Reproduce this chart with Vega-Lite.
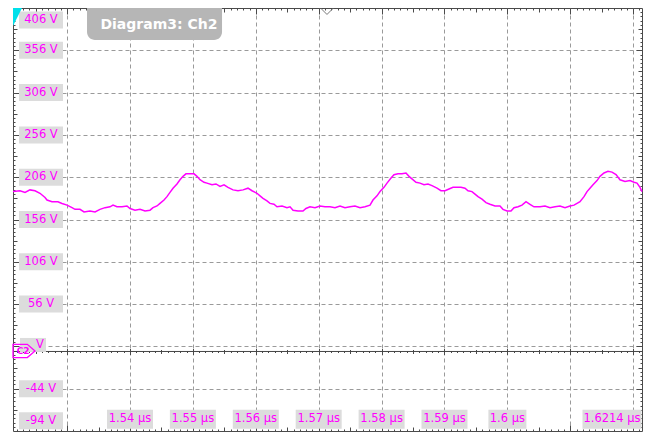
{
  "$schema": "https://vega.github.io/schema/vega-lite/v6.json",
  "width": 629,
  "height": 423,
  "autosize": {"type": "none"},
  "padding": {"left": 13, "top": 8, "right": 11, "bottom": 1},
  "background": "white",
  "config": {
    "view": {"stroke": "#4a4a4a", "strokeWidth": 1},
    "axis": {"labels": false, "domain": false, "grid": false, "tickColor": "#4a4a4a", "tickWidth": 1}
  },
  "datasets": {
    "one": [{}],
    "trace": [
      {"t":1.5214,"v":189},{"t":1.52251,"v":190},{"t":1.52331,"v":188},{"t":1.5241,"v":191},{"t":1.5249,"v":190},{"t":1.52569,"v":187},{"t":1.52649,"v":182},{"t":1.52681,"v":179},{"t":1.5276,"v":177},{"t":1.52855,"v":177},{"t":1.52919,"v":175},{"t":1.52999,"v":173},{"t":1.53078,"v":170},{"t":1.53126,"v":168},{"t":1.53205,"v":168},{"t":1.53269,"v":165},{"t":1.53364,"v":166},{"t":1.53444,"v":165},{"t":1.53523,"v":168},{"t":1.53603,"v":170},{"t":1.53682,"v":171},{"t":1.5373,"v":173},{"t":1.53793,"v":171},{"t":1.53873,"v":171},{"t":1.53952,"v":172},{"t":1.54,"v":169},{"t":1.5408,"v":167},{"t":1.54159,"v":168},{"t":1.54239,"v":166},{"t":1.54318,"v":167},{"t":1.54366,"v":170},{"t":1.54429,"v":172},{"t":1.54477,"v":175},{"t":1.54541,"v":179},{"t":1.54588,"v":183},{"t":1.54636,"v":188},{"t":1.54684,"v":193},{"t":1.54747,"v":198},{"t":1.54795,"v":203},{"t":1.54843,"v":207},{"t":1.5489,"v":210},{"t":1.54954,"v":210},{"t":1.55018,"v":210},{"t":1.55065,"v":207},{"t":1.55113,"v":203},{"t":1.55177,"v":200},{"t":1.55224,"v":199},{"t":1.55304,"v":197},{"t":1.55367,"v":198},{"t":1.55431,"v":195},{"t":1.55495,"v":197},{"t":1.55558,"v":194},{"t":1.55638,"v":191},{"t":1.55717,"v":190},{"t":1.55797,"v":191},{"t":1.55876,"v":193},{"t":1.5594,"v":190},{"t":1.56019,"v":187},{"t":1.56067,"v":184},{"t":1.56115,"v":181},{"t":1.56178,"v":178},{"t":1.56226,"v":175},{"t":1.56289,"v":174},{"t":1.56337,"v":171},{"t":1.56417,"v":172},{"t":1.56496,"v":170},{"t":1.56544,"v":171},{"t":1.56592,"v":167},{"t":1.56671,"v":166},{"t":1.5675,"v":166},{"t":1.56798,"v":169},{"t":1.56862,"v":171},{"t":1.56941,"v":170},{"t":1.57021,"v":172},{"t":1.571,"v":171},{"t":1.5718,"v":171},{"t":1.57259,"v":170},{"t":1.57339,"v":172},{"t":1.57418,"v":170},{"t":1.57498,"v":171},{"t":1.57577,"v":172},{"t":1.57657,"v":170},{"t":1.57736,"v":171},{"t":1.57816,"v":173},{"t":1.57863,"v":179},{"t":1.57927,"v":184},{"t":1.57975,"v":189},{"t":1.58038,"v":194},{"t":1.58086,"v":199},{"t":1.5815,"v":205},{"t":1.58197,"v":209},{"t":1.58261,"v":210},{"t":1.58324,"v":210},{"t":1.58388,"v":211},{"t":1.58436,"v":207},{"t":1.58483,"v":204},{"t":1.58547,"v":200},{"t":1.58611,"v":199},{"t":1.58674,"v":197},{"t":1.58738,"v":198},{"t":1.58801,"v":196},{"t":1.58881,"v":193},{"t":1.58944,"v":190},{"t":1.59008,"v":190},{"t":1.59072,"v":192},{"t":1.59135,"v":194},{"t":1.59199,"v":194},{"t":1.59262,"v":194},{"t":1.59326,"v":193},{"t":1.59374,"v":190},{"t":1.59437,"v":189},{"t":1.59485,"v":186},{"t":1.59533,"v":183},{"t":1.59596,"v":180},{"t":1.5966,"v":176},{"t":1.59723,"v":174},{"t":1.59803,"v":172},{"t":1.59882,"v":172},{"t":1.5993,"v":168},{"t":1.59994,"v":166},{"t":1.60057,"v":166},{"t":1.60105,"v":170},{"t":1.60169,"v":171},{"t":1.60232,"v":173},{"t":1.60296,"v":177},{"t":1.60359,"v":174},{"t":1.60423,"v":171},{"t":1.60518,"v":171},{"t":1.60598,"v":172},{"t":1.60677,"v":170},{"t":1.60757,"v":171},{"t":1.60836,"v":172},{"t":1.60916,"v":170},{"t":1.60995,"v":172},{"t":1.61059,"v":173},{"t":1.61107,"v":175},{"t":1.61154,"v":177},{"t":1.61218,"v":183},{"t":1.61266,"v":189},{"t":1.61313,"v":193},{"t":1.61361,"v":197},{"t":1.61425,"v":202},{"t":1.61472,"v":207},{"t":1.61536,"v":211},{"t":1.61599,"v":213},{"t":1.61663,"v":212},{"t":1.61727,"v":209},{"t":1.6179,"v":203},{"t":1.6187,"v":201},{"t":1.61949,"v":202},{"t":1.62013,"v":200},{"t":1.62061,"v":199},{"t":1.62108,"v":194},{"t":1.6214,"v":189}
    ],
    "ylab": [
      {"v":391.8,"label":"406 V"},{"v":356,"label":"356 V"},{"v":306,"label":"306 V"},{"v":256,"label":"256 V"},{"v":206,"label":"206 V"},{"v":156,"label":"156 V"},{"v":106,"label":"106 V"},{"v":56,"label":"56 V"},{"v":-44,"label":"-44 V"},{"v":-82,"label":"-94 V"}
    ],
    "xlab": [
      {"t":1.54,"label":"1.54 µs"},{"t":1.55,"label":"1.55 µs"},{"t":1.56,"label":"1.56 µs"},{"t":1.57,"label":"1.57 µs"},{"t":1.58,"label":"1.58 µs"},{"t":1.59,"label":"1.59 µs"},{"t":1.6,"label":"1.6 µs"},{"t":1.61663,"label":"1.6214 µs"}
    ]
  },
  "resolve": {"axis": {"x": "independent", "y": "independent"}},
  "layer": [
    {
      "data": {"name": "ylab"},
      "mark": {"type": "rect", "width": 44, "height": 17, "fill": "#dcdcdc"},
      "encoding": {
        "x": {"datum": 1.52585, "type": "quantitative", "scale": {"domain": [1.5214, 1.6214], "nice": false, "zero": false},
          "axis": {"orient": "bottom", "title": null, "tickSize": -4, "values": [1.525,1.535,1.545,1.555,1.565,1.575,1.585,1.595,1.605,1.615]}},
        "y": {"field": "v", "type": "quantitative", "scale": {"domain": [-94, 406], "nice": false, "zero": false},
          "axis": {"orient": "left", "title": null, "tickSize": -4, "values": [-69,-19,31,81,131,181,231,281,331,381]}}
      }
    },
    {
      "data": {"name": "ylab"},
      "mark": {"type": "text", "font": "DejaVu Sans", "fontSize": 11.5, "color": "#ff00ff", "align": "center", "baseline": "middle"},
      "encoding": {
        "x": {"datum": 1.52585, "type": "quantitative", "scale": {"domain": [1.5214, 1.6214], "nice": false, "zero": false},
          "axis": {"orient": "bottom", "title": null, "tickSize": -2, "values": [1.522,1.523,1.524,1.525,1.526,1.527,1.528,1.529,1.53,1.531,1.532,1.533,1.534,1.535,1.536,1.537,1.538,1.539,1.54,1.541,1.542,1.543,1.544,1.545,1.546,1.547,1.548,1.549,1.55,1.551,1.552,1.553,1.554,1.555,1.556,1.557,1.558,1.559,1.56,1.561,1.562,1.563,1.564,1.565,1.566,1.567,1.568,1.569,1.57,1.571,1.572,1.573,1.574,1.575,1.576,1.577,1.578,1.579,1.58,1.581,1.582,1.583,1.584,1.585,1.586,1.587,1.588,1.589,1.59,1.591,1.592,1.593,1.594,1.595,1.596,1.597,1.598,1.599,1.6,1.601,1.602,1.603,1.604,1.605,1.606,1.607,1.608,1.609,1.61,1.611,1.612,1.613,1.614,1.615,1.616,1.617,1.618,1.619,1.62,1.621]}},
        "y": {"field": "v", "type": "quantitative", "scale": {"domain": [-94, 406], "nice": false, "zero": false},
          "axis": {"orient": "left", "title": null, "tickSize": -2, "values": [-89,-84,-79,-74,-69,-64,-59,-54,-49,-44,-39,-34,-29,-24,-19,-14,-9,-4,1,6,11,16,21,26,31,36,41,46,51,56,61,66,71,76,81,86,91,96,101,106,111,116,121,126,131,136,141,146,151,156,161,166,171,176,181,186,191,196,201,206,211,216,221,226,231,236,241,246,251,256,261,266,271,276,281,286,291,296,301,306,311,316,321,326,331,336,341,346,351,356,361,366,371,376,381,386,391,396,401]}},
        "text": {"field": "label"}
      }
    },
    {
      "data": {"name": "xlab"},
      "transform": [{"filter": "datum.label != '1.6 µs' && datum.label != '1.6214 µs'"}],
      "mark": {"type": "rect", "width": 46, "height": 19, "fill": "#dcdcdc"},
      "encoding": {
        "x": {"field": "t", "type": "quantitative", "scale": {"domain": [1.5214, 1.6214], "nice": false, "zero": false},
          "axis": {"orient": "top", "title": null, "tickSize": -6, "values": [1.53,1.54,1.55,1.56,1.57,1.58,1.59,1.6,1.61,1.62]}},
        "y": {"datum": -80, "type": "quantitative", "scale": {"domain": [-94, 406], "nice": false, "zero": false},
          "axis": {"orient": "right", "title": null, "tickSize": -6, "values": [-44,6,56,106,156,206,256,306,356]}}
      }
    },
    {
      "data": {"name": "xlab"},
      "transform": [{"filter": "datum.label == '1.6 µs'"}],
      "mark": {"type": "rect", "width": 38, "height": 19, "fill": "#dcdcdc"},
      "encoding": {
        "x": {"field": "t", "type": "quantitative", "scale": {"domain": [1.5214, 1.6214], "nice": false, "zero": false},
          "axis": {"orient": "top", "title": null, "tickSize": -4, "values": [1.525,1.535,1.545,1.555,1.565,1.575,1.585,1.595,1.605,1.615]}},
        "y": {"datum": -80, "type": "quantitative", "scale": {"domain": [-94, 406], "nice": false, "zero": false},
          "axis": {"orient": "right", "title": null, "tickSize": -4, "values": [-69,-19,31,81,131,181,231,281,331,381]}}
      }
    },
    {
      "data": {"name": "xlab"},
      "transform": [{"filter": "datum.label == '1.6214 µs'"}],
      "mark": {"type": "rect", "width": 59, "height": 19, "fill": "#dcdcdc"},
      "encoding": {
        "x": {"field": "t", "type": "quantitative", "scale": {"domain": [1.5214, 1.6214], "nice": false, "zero": false},
          "axis": {"orient": "top", "title": null, "tickSize": -2, "values": [1.522,1.523,1.524,1.525,1.526,1.527,1.528,1.529,1.53,1.531,1.532,1.533,1.534,1.535,1.536,1.537,1.538,1.539,1.54,1.541,1.542,1.543,1.544,1.545,1.546,1.547,1.548,1.549,1.55,1.551,1.552,1.553,1.554,1.555,1.556,1.557,1.558,1.559,1.56,1.561,1.562,1.563,1.564,1.565,1.566,1.567,1.568,1.569,1.57,1.571,1.572,1.573,1.574,1.575,1.576,1.577,1.578,1.579,1.58,1.581,1.582,1.583,1.584,1.585,1.586,1.587,1.588,1.589,1.59,1.591,1.592,1.593,1.594,1.595,1.596,1.597,1.598,1.599,1.6,1.601,1.602,1.603,1.604,1.605,1.606,1.607,1.608,1.609,1.61,1.611,1.612,1.613,1.614,1.615,1.616,1.617,1.618,1.619,1.62,1.621]}},
        "y": {"datum": -80, "type": "quantitative", "scale": {"domain": [-94, 406], "nice": false, "zero": false},
          "axis": {"orient": "right", "title": null, "tickSize": -2, "values": [-89,-84,-79,-74,-69,-64,-59,-54,-49,-44,-39,-34,-29,-24,-19,-14,-9,-4,1,6,11,16,21,26,31,36,41,46,51,56,61,66,71,76,81,86,91,96,101,106,111,116,121,126,131,136,141,146,151,156,161,166,171,176,181,186,191,196,201,206,211,216,221,226,231,236,241,246,251,256,261,266,271,276,281,286,291,296,301,306,311,316,321,326,331,336,341,346,351,356,361,366,371,376,381,386,391,396,401]}}
      }
    },
    {
      "data": {"name": "xlab"},
      "mark": {"type": "text", "font": "DejaVu Sans", "fontSize": 11.5, "color": "#ff00ff", "align": "center", "baseline": "middle"},
      "encoding": {
        "x": {"field": "t", "type": "quantitative", "scale": {"domain": [1.5214, 1.6214], "nice": false, "zero": false},
          "axis": {"orient": "bottom", "title": null, "offset": -82.5, "tickSize": 6, "values": [1.53,1.54,1.55,1.56,1.57,1.58,1.59,1.6,1.61,1.62]}},
        "y": {"datum": -80, "type": "quantitative", "scale": {"domain": [-94, 406], "nice": false, "zero": false}, "axis": null},
        "text": {"field": "label"}
      }
    },
    {
      "data": {"name": "one"},
      "mark": {"type": "rect", "width": 135, "height": 32, "fill": "#b6b6b6", "cornerRadiusBottomLeft": 8, "cornerRadiusBottomRight": 8},
      "encoding": {
        "x": {"datum": 1.5439, "type": "quantitative", "scale": {"domain": [1.5214, 1.6214], "nice": false, "zero": false},
          "axis": {"orient": "bottom", "title": null, "offset": -81.5, "tickSize": 4, "values": [1.525,1.535,1.545,1.555,1.565,1.575,1.585,1.595,1.605,1.615]}},
        "y": {"datum": 387.1, "type": "quantitative", "scale": {"domain": [-94, 406], "nice": false, "zero": false}, "axis": null}
      }
    },
    {
      "data": {"name": "one"},
      "mark": {"type": "text", "text": "Diagram3: Ch2", "font": "DejaVu Sans", "fontWeight": "bold", "fontSize": 14, "color": "white", "align": "center", "baseline": "middle"},
      "encoding": {
        "x": {"datum": 1.5446, "type": "quantitative", "scale": {"domain": [1.5214, 1.6214], "nice": false, "zero": false},
          "axis": {"orient": "bottom", "title": null, "offset": -80.5, "tickSize": 2, "values": [1.522,1.523,1.524,1.525,1.526,1.527,1.528,1.529,1.53,1.531,1.532,1.533,1.534,1.535,1.536,1.537,1.538,1.539,1.54,1.541,1.542,1.543,1.544,1.545,1.546,1.547,1.548,1.549,1.55,1.551,1.552,1.553,1.554,1.555,1.556,1.557,1.558,1.559,1.56,1.561,1.562,1.563,1.564,1.565,1.566,1.567,1.568,1.569,1.57,1.571,1.572,1.573,1.574,1.575,1.576,1.577,1.578,1.579,1.58,1.581,1.582,1.583,1.584,1.585,1.586,1.587,1.588,1.589,1.59,1.591,1.592,1.593,1.594,1.595,1.596,1.597,1.598,1.599,1.6,1.601,1.602,1.603,1.604,1.605,1.606,1.607,1.608,1.609,1.61,1.611,1.612,1.613,1.614,1.615,1.616,1.617,1.618,1.619,1.62,1.621]}},
        "y": {"datum": 385.9, "type": "quantitative", "scale": {"domain": [-94, 406], "nice": false, "zero": false}, "axis": null}
      }
    },
    {
      "data": {"name": "one"},
      "mark": {"type": "rule", "color": "#444", "strokeWidth": 1},
      "encoding": {
        "y": {"datum": 0, "type": "quantitative", "scale": {"domain": [-94, 406], "nice": false, "zero": false}, "axis": null}
      }
    },
    {
      "data": {"name": "one"},
      "mark": {"type": "rect", "width": 26, "height": 14, "fill": "#dcdcdc"},
      "encoding": {
        "x": {"datum": 1.52458, "type": "quantitative", "scale": {"domain": [1.5214, 1.6214], "nice": false, "zero": false}, "axis": null},
        "y": {"datum": 7.7, "type": "quantitative", "scale": {"domain": [-94, 406], "nice": false, "zero": false}, "axis": null}
      }
    },
    {
      "data": {"name": "one"},
      "mark": {"type": "point", "shape": "M-1,-0.6L0.3,-0.6L1,0L0.3,0.6L-1,0.6Z", "size": 484, "filled": false, "stroke": "#ff00ff", "strokeWidth": 1.3, "opacity": 1},
      "encoding": {
        "x": {"datum": 1.52315, "type": "quantitative", "scale": {"domain": [1.5214, 1.6214], "nice": false, "zero": false}, "axis": null},
        "y": {"datum": 0.6, "type": "quantitative", "scale": {"domain": [-94, 406], "nice": false, "zero": false}, "axis": null}
      }
    },
    {
      "data": {"name": "one"},
      "mark": {"type": "text", "text": "C2", "font": "DejaVu Sans", "fontSize": 9, "fontWeight": "bold", "color": "#ff00ff", "align": "center", "baseline": "middle"},
      "encoding": {
        "x": {"datum": 1.5230, "type": "quantitative", "scale": {"domain": [1.5214, 1.6214], "nice": false, "zero": false}, "axis": null},
        "y": {"datum": 0.3, "type": "quantitative", "scale": {"domain": [-94, 406], "nice": false, "zero": false}, "axis": null}
      }
    },
    {
      "data": {"name": "one"},
      "mark": {"type": "text", "text": "V", "font": "DejaVu Sans", "fontSize": 11.5, "color": "#ff00ff", "align": "center", "baseline": "middle"},
      "encoding": {
        "x": {"datum": 1.52569, "type": "quantitative", "scale": {"domain": [1.5214, 1.6214], "nice": false, "zero": false}, "axis": null},
        "y": {"datum": 7.7, "type": "quantitative", "scale": {"domain": [-94, 406], "nice": false, "zero": false}, "axis": null}
      }
    },
    {
      "data": {"name": "one"},
      "mark": {"type": "point", "shape": "M-0.5,-1L0.5,-1L-0.5,1Z", "size": 324, "filled": true, "fill": "#00e0ea", "strokeWidth": 0, "opacity": 1},
      "encoding": {
        "x": {"datum": 1.52212, "type": "quantitative", "scale": {"domain": [1.5214, 1.6214], "nice": false, "zero": false}, "axis": null},
        "y": {"datum": 395.4, "type": "quantitative", "scale": {"domain": [-94, 406], "nice": false, "zero": false}, "axis": null}
      }
    },
    {
      "data": {"name": "one"},
      "mark": {"type": "point", "shape": "M-1,-0.5L0,0.5L1,-0.5", "size": 144, "filled": false, "stroke": "#777", "strokeWidth": 1, "opacity": 1},
      "encoding": {
        "x": {"datum": 1.57132, "type": "quantitative", "scale": {"domain": [1.5214, 1.6214], "nice": false, "zero": false}, "axis": null},
        "y": {"datum": 401.9, "type": "quantitative", "scale": {"domain": [-94, 406], "nice": false, "zero": false}, "axis": null}
      }
    },
    {
      "data": {"name": "trace"},
      "mark": {"type": "line", "color": "#ff00ff", "strokeWidth": 1.5, "interpolate": "linear"},
      "encoding": {
        "x": {"field": "t", "type": "quantitative", "scale": {"domain": [1.5214, 1.6214], "nice": false, "zero": false},
          "axis": {"orient": "bottom", "title": null, "tickSize": -6, "grid": true, "gridDash": [4, 3], "gridColor": "#9a9a9a", "gridWidth": 1, "values": [1.53,1.54,1.55,1.56,1.57,1.58,1.59,1.6,1.61,1.62]}},
        "y": {"field": "v", "type": "quantitative", "scale": {"domain": [-94, 406], "nice": false, "zero": false},
          "axis": {"orient": "left", "title": null, "tickSize": -6, "grid": true, "gridDash": [4, 3], "gridColor": "#9a9a9a", "gridWidth": 1, "values": [-44,6,56,106,156,206,256,306,356]}}
      }
    }
  ]
}
